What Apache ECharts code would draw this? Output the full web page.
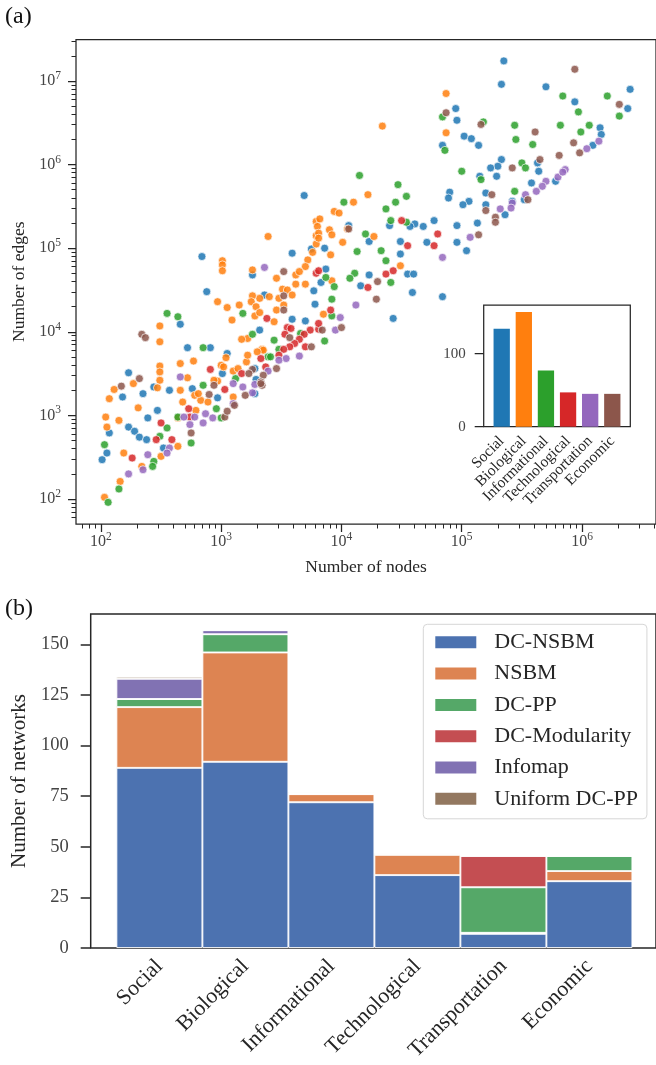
<!DOCTYPE html>
<html>
<head>
<meta charset="utf-8">
<script src="https://cdn.jsdelivr.net/npm/echarts@6.0.0/dist/echarts.min.js"></script>
<style>
  html, body { margin: 0; padding: 0; background: #fff; }
  #chart { width: 656px; height: 1065px; }
</style>
</head>
<body>
<div id="chart"></div>
<script>
// network domains, used by the inset and by panel (b)
var categories = ['Social', 'Biological', 'Informational', 'Technological', 'Transportation', 'Economic'];

// panel (a): one point per network, [log10(nodes), log10(edges)]
var socialPts = [[5.35,7.24],[5.33,6.96],[5.70,6.93],[6.40,6.90],[5.94,6.75],[6.38,6.67],[4.95,6.67],[4.96,6.53],[5.02,6.34],[5.08,6.31],[5.14,6.23],[4.84,6.23],[6.15,6.44],[6.16,6.36],[6.09,6.23],[5.33,6.06],[5.30,5.98],[5.24,5.96],[5.29,5.86],[5.15,5.86],[5.63,6.02],[5.64,5.92],[5.58,5.78],[5.78,5.80],[4.90,5.67],[4.89,5.60],[5.06,5.56],[5.01,5.52],[5.20,5.66],[5.20,5.52],[5.36,5.40],[5.42,5.56],[5.52,5.58],[5.13,5.30],[4.96,5.27],[4.96,5.07],[5.04,4.97],[4.77,5.33],[4.68,5.26],[4.61,5.29],[4.57,5.26],[4.40,5.27],[4.71,5.07],[4.49,5.08],[4.49,4.93],[4.23,5.08],[4.23,4.68],[4.16,4.55],[4.55,4.69],[4.60,4.69],[4.59,4.47],[4.84,4.42],[3.86,5.00],[3.77,4.49],[3.83,4.59],[3.69,5.63],[3.87,4.75],[4.43,4.16],[3.70,4.13],[3.78,4.33],[2.84,4.90],[2.88,4.48],[3.26,4.68],[3.59,4.94],[4.06,5.27],[3.75,4.99],[3.59,4.15],[3.36,4.44],[2.66,4.09],[2.72,3.81],[2.91,3.81],[3.05,3.74],[3.01,3.50],[3.29,3.43],[3.32,4.02],[2.23,3.51],[2.18,3.22],[2.35,3.26],[2.57,3.30],[2.76,3.32],[2.97,3.21],[3.28,3.26],[2.39,2.97],[2.47,3.06],[2.23,2.86],[2.28,2.81],[2.32,2.74],[2.38,2.71],[2.07,2.79],[2.05,2.55],[2.01,2.47],[2.52,2.61],[3.28,3.56],[2.44,3.34]];
var biologicalPts = [[4.87,6.85],[4.87,6.38],[4.34,6.46],[4.22,5.64],[4.10,5.55],[3.94,5.44],[3.98,5.42],[3.79,5.32],[3.82,5.35],[3.90,5.22],[3.92,5.16],[3.79,5.15],[4.01,5.07],[3.79,5.05],[3.91,4.92],[3.72,4.86],[3.70,4.78],[3.76,4.95],[4.05,5.23],[4.27,5.14],[4.49,4.79],[3.70,4.57],[3.92,4.61],[3.80,5.26],[3.81,5.18],[3.81,5.12],[3.39,5.14],[3.01,4.85],[3.01,4.80],[3.01,4.73],[3.26,4.74],[3.46,4.64],[3.62,4.68],[3.65,4.72],[3.62,4.57],[3.51,4.51],[3.55,4.50],[3.59,4.44],[3.48,4.40],[3.32,4.40],[3.26,4.43],[3.25,4.36],[3.29,4.30],[3.15,4.32],[3.05,4.29],[2.97,4.36],[3.09,4.14],[3.28,4.19],[3.32,4.23],[3.46,4.26],[3.52,4.32],[3.85,4.21],[3.44,4.12],[2.49,4.07],[2.49,3.88],[3.22,3.92],[2.77,3.65],[2.66,3.62],[2.49,3.59],[2.49,3.52],[2.49,3.42],[3.00,3.60],[3.04,3.69],[3.02,3.58],[3.10,3.53],[3.14,3.56],[3.21,3.64],[3.22,3.72],[3.34,3.79],[2.27,3.38],[2.11,3.31],[2.07,3.20],[2.47,3.33],[2.72,3.45],[2.66,3.30],[2.68,3.16],[2.78,3.24],[2.83,3.18],[2.97,3.41],[2.31,3.09],[2.04,2.98],[2.05,2.86],[2.15,2.94],[2.19,2.55],[2.64,2.63],[2.50,2.51],[2.34,2.39],[2.16,2.21],[2.03,2.02],[3.10,3.22],[2.81,3.26],[2.89,3.16],[2.79,3.06],[3.35,3.78],[3.30,3.76],[3.40,4.42],[3.17,3.91],[2.94,3.42],[2.64,2.97]];
var informationalPts = [[5.84,6.82],[6.21,6.82],[5.97,6.63],[6.31,6.58],[6.06,6.47],[5.99,6.39],[5.82,6.47],[5.44,6.47],[5.45,6.30],[5.59,6.24],[4.84,6.57],[4.86,6.17],[5.18,6.51],[5.50,6.02],[5.53,5.96],[5.00,5.92],[5.16,5.82],[5.44,5.68],[4.15,5.87],[4.47,5.76],[4.54,5.62],[4.45,5.55],[4.37,5.47],[4.02,5.55],[4.41,5.33],[4.54,5.31],[4.20,5.17],[4.13,4.96],[4.33,4.97],[4.37,4.85],[4.11,4.70],[4.07,4.64],[4.41,4.59],[3.87,4.65],[3.94,4.54],[3.92,4.39],[3.18,4.22],[3.92,4.19],[3.86,3.89],[3.66,3.98],[2.55,4.22],[2.64,4.18],[2.85,3.81],[3.26,3.97],[3.39,3.70],[3.12,3.44],[2.55,2.85],[2.03,2.65],[2.49,2.75],[2.44,2.45],[2.43,2.39],[2.15,2.12],[2.06,1.96],[2.64,2.98],[2.75,2.67],[2.96,3.08],[2.85,3.36],[3.44,3.90],[3.41,3.70],[3.00,2.97],[3.48,3.79]];
var technologicalPts = [[4.50,5.33],[4.55,5.03],[4.77,5.03],[4.80,5.17],[4.22,4.53],[4.37,4.69],[4.43,4.73],[3.79,4.70],[3.81,4.73],[3.91,4.26],[3.81,4.03],[3.74,4.02],[3.69,3.97],[3.70,3.82],[3.38,4.16],[3.55,4.05],[3.81,4.10],[3.65,3.91],[3.61,3.86],[3.57,3.82],[3.58,4.04],[3.52,3.79],[3.48,3.72],[3.33,3.68],[3.17,3.50],[2.91,3.55],[3.03,3.31],[2.50,2.91],[2.26,2.49],[2.46,2.71],[2.59,2.71],[2.73,3.08],[2.74,2.98],[3.53,3.97],[3.37,3.58]];
var transportationPts = [[6.14,6.28],[6.04,6.19],[5.86,5.94],[5.80,5.85],[5.84,5.91],[5.70,5.80],[5.67,5.74],[5.62,5.68],[5.53,5.64],[5.42,5.54],[5.41,5.48],[5.32,5.47],[5.07,5.13],[4.84,4.89],[4.12,4.32],[3.99,4.17],[3.95,4.02],[3.65,3.71],[3.54,3.68],[3.48,3.66],[3.39,3.53],[3.28,3.37],[3.18,3.34],[3.10,3.38],[3.36,4.77],[2.66,3.46],[2.39,2.53],[2.57,2.61],[2.55,2.55],[2.35,2.35],[2.23,2.30],[2.78,2.98],[2.74,2.89],[2.85,2.91],[2.87,3.02],[2.93,2.97],[3.10,3.14],[3.26,3.27],[2.69,2.98]];
var economicPts = [[5.94,7.14],[6.31,6.72],[4.87,6.62],[5.16,6.48],[5.61,6.39],[5.93,6.26],[5.98,6.14],[5.81,6.11],[5.42,5.96],[5.65,6.06],[5.25,5.64],[5.20,5.45],[5.28,5.37],[5.28,5.31],[5.55,5.58],[5.14,5.16],[4.30,4.60],[4.29,4.39],[4.06,5.23],[3.52,4.72],[3.52,4.43],[3.52,4.26],[4.00,4.05],[3.84,4.02],[3.75,3.82],[3.57,3.93],[3.46,3.56],[3.35,3.48],[3.33,3.40],[3.34,3.36],[3.26,3.55],[3.20,3.24],[3.11,3.12],[3.23,3.50],[3.33,3.38],[2.34,3.97],[2.37,3.93],[2.32,3.44],[2.17,3.35],[2.90,3.25],[2.94,3.36],[2.75,2.79],[3.03,2.98],[3.05,3.05]];

// inset: number of networks per domain
var insetCounts = [134, 157, 77, 47, 45, 45];
var insetTicks = [0, 100];

// panel (b): best model per domain, stacked
var methods = ['DC-NSBM', 'NSBM', 'DC-PP', 'DC-Modularity', 'Infomap', 'Uniform DC-PP'];
var dcNsbm = [89, 92, 72, 36, 7, 33];
var nsbm = [30, 54, 4, 10, 0.5, 5];
var dcPp = [4, 9, 0, 0.5, 22.5, 7.5];
var dcModularity = [0, 0, 0.5, 0.5, 15.5, 0];
var infomap = [10, 2, 0, 0, 0, 0];
var uniformDcPp = [1, 0, 0.5, 0, 0, 0];
var bTicks = [0, 25, 50, 75, 100, 125, 150];

// log axis decades
var xDecades = [2, 3, 4, 5, 6];
var yDecades = [2, 3, 4, 5, 6, 7];

var tab10 = ['#1f77b4', '#ff7f0e', '#2ca02c', '#d62728', '#9467bd', '#8c564b'];
var deep = ['#4c72b0', '#dd8452', '#55a868', '#c44e52', '#8172b3', '#937860'];
var FONT = '"Liberation Serif", "DejaVu Serif", serif';
var INK = '#262626';
var TICKC = '#444';

var X_MIN = 1.793, X_MAX = 6.615;
var Y_MIN = 1.701, Y_MAX = 7.496;

function minorTicks(lo, hi) {
	var out = [];
	for (var d = Math.floor(lo); d <= Math.ceil(hi); d++) {
		for (var k = 2; k <= 9; k++) {
			var v = d + Math.log10(k);
			if (v > lo && v < hi) out.push(v);
		}
	}
	return out;
}

// "10" in the label's own style, exponent raised via rich text
function powLabel(margin) {
	return {
		margin: margin, fontFamily: FONT, fontSize: 16, lineHeight: 22, color: TICKC,
		formatter: function (v) { return '10{s|' + Math.round(v) + '}'; },
		rich: { s: { fontFamily: FONT, fontSize: 11.5, color: TICKC, verticalAlign: 'top' } }
	};
}

var tickLine = { color: INK, width: 1.25 };

function scatterSeries(name, pts, color) {
	return {
		type: 'scatter', name: name, xAxisIndex: 0, yAxisIndex: 0,
		data: pts, symbolSize: 8, z: 2,
		itemStyle: { color: color, opacity: 0.85, borderColor: '#fff', borderWidth: 0.8 }
	};
}

var myChart = echarts.init(document.getElementById('chart'), null, { renderer: 'canvas' });

var stackData = [dcNsbm, nsbm, dcPp, dcModularity, infomap, uniformDcPp];
var series = [
	scatterSeries('Social', socialPts, tab10[0]),
	scatterSeries('Biological', biologicalPts, tab10[1]),
	scatterSeries('Informational', informationalPts, tab10[2]),
	scatterSeries('Technological', technologicalPts, tab10[3]),
	scatterSeries('Transportation', transportationPts, tab10[4]),
	scatterSeries('Economic', economicPts, tab10[5]),
	{
		type: 'bar', name: 'inset', xAxisIndex: 3, yAxisIndex: 3, barWidth: 16.3, z: 12,
		data: insetCounts.map(function (v, i) { return { value: v, itemStyle: { color: tab10[i] } }; })
	}
];
methods.forEach(function (m, i) {
	series.push({
		type: 'bar', name: m, xAxisIndex: 5, yAxisIndex: 5, stack: 'best', barWidth: 86,
		itemStyle: { color: deep[i], borderColor: '#fff', borderWidth: 0.9 },
		data: stackData[i]
	});
});

var option = {
	animation: false,
	backgroundColor: '#fff',
	grid: [
		{ left: 76, top: 39.5, width: 582, height: 484.5, show: true, borderColor: INK, borderWidth: 1.25, backgroundColor: 'transparent' },
		{ left: 483.7, top: 305, width: 146.6, height: 121.7, show: true, borderColor: INK, borderWidth: 1.25, backgroundColor: '#fff', z: 10 },
		{ left: 490.65, top: 305, width: 132.7, height: 121.7, z: 10 },
		{ left: 90.7, top: 614, width: 567.3, height: 334, show: true, borderColor: INK, borderWidth: 1.5, backgroundColor: 'transparent' },
		{ left: 116.4, top: 614, width: 516, height: 334 }
	],
	xAxis: [
		{
			gridIndex: 0, type: 'value', position: 'bottom', min: X_MIN, max: X_MAX,
			axisLine: { show: false }, splitLine: { show: false },
			axisTick: { customValues: xDecades, length: 8, lineStyle: tickLine },
			axisLabel: Object.assign({ customValues: xDecades }, powLabel(7)),
			name: 'Number of nodes', nameLocation: 'middle', nameGap: 34,
			nameTextStyle: { fontFamily: FONT, fontSize: 17.5, color: INK }
		},
		{
			gridIndex: 0, type: 'value', position: 'bottom', min: X_MIN, max: X_MAX,
			axisLine: { show: false }, splitLine: { show: false }, axisLabel: { show: false },
			axisTick: { customValues: minorTicks(X_MIN, X_MAX), length: 4.5, lineStyle: { color: INK, width: 1 } }
		},
		{ gridIndex: 1, type: 'value', show: false },
		{
			gridIndex: 2, type: 'category', data: categories, z: 11,
			axisLine: { show: false },
			axisTick: { alignWithLabel: true, length: 9, lineStyle: tickLine },
			axisLabel: { interval: 0, rotate: 45, margin: 12, fontFamily: FONT, fontSize: 15.5, color: INK }
		},
		{ gridIndex: 3, type: 'value', show: false },
		{
			gridIndex: 4, type: 'category', data: categories,
			axisLine: { show: false },
			axisTick: { alignWithLabel: true, length: 10, lineStyle: { color: INK, width: 1.5 } },
			axisLabel: { interval: 0, rotate: 45, margin: 15, fontFamily: FONT, fontSize: 22, color: INK }
		}
	],
	yAxis: [
		{
			gridIndex: 0, type: 'value', position: 'left', min: Y_MIN, max: Y_MAX,
			axisLine: { show: false }, splitLine: { show: false },
			axisTick: { customValues: yDecades, length: 8, lineStyle: tickLine },
			axisLabel: Object.assign({ customValues: yDecades }, powLabel(15)),
			name: 'Number of edges', nameLocation: 'middle', nameGap: 47,
			nameTextStyle: { fontFamily: FONT, fontSize: 17.5, color: INK }
		},
		{
			gridIndex: 0, type: 'value', position: 'left', min: Y_MIN, max: Y_MAX,
			axisLine: { show: false }, splitLine: { show: false }, axisLabel: { show: false },
			axisTick: { customValues: minorTicks(Y_MIN, Y_MAX), length: 4.5, lineStyle: { color: INK, width: 1 } }
		},
		{
			gridIndex: 1, type: 'value', min: 0, max: 166.7, z: 11,
			axisLine: { show: false }, splitLine: { show: false },
			axisTick: { customValues: insetTicks, length: 9, lineStyle: tickLine },
			axisLabel: { customValues: insetTicks, margin: 18, fontFamily: FONT, fontSize: 15, color: TICKC }
		},
		{ gridIndex: 2, type: 'value', min: 0, max: 166.7, show: false },
		{
			gridIndex: 3, type: 'value', min: 0, max: 165,
			axisLine: { show: false }, splitLine: { show: false },
			axisTick: { customValues: bTicks, length: 10, lineStyle: { color: INK, width: 1.5 } },
			axisLabel: { customValues: bTicks, margin: 22, fontFamily: FONT, fontSize: 18.5, color: TICKC },
			name: 'Number of networks', nameLocation: 'middle', nameGap: 57,
			nameTextStyle: { fontFamily: FONT, fontSize: 21, color: INK }
		},
		{ gridIndex: 4, type: 'value', min: 0, max: 165, show: false }
	],
	legend: {
		data: methods, orient: 'vertical', left: 423.3, top: 624.3,
		backgroundColor: '#fff', borderColor: '#d6d6d6', borderWidth: 1, borderRadius: 4,
		padding: [6, 9, 8, 10], itemWidth: 43, itemHeight: 14, itemGap: 7.3, icon: 'rect',
		textStyle: { fontFamily: FONT, fontSize: 22, color: INK, lineHeight: 24, padding: [0, 0, 0, 12] }
	},
	graphic: [
		{ type: 'text', left: 5, top: 5, style: { text: '(a)', font: '24px ' + FONT, fill: '#111' } },
		{ type: 'text', left: 5, top: 597, style: { text: '(b)', font: '24px ' + FONT, fill: '#111' } }
	],
	series: series
};

myChart.setOption(option);
</script>
</body>
</html>
